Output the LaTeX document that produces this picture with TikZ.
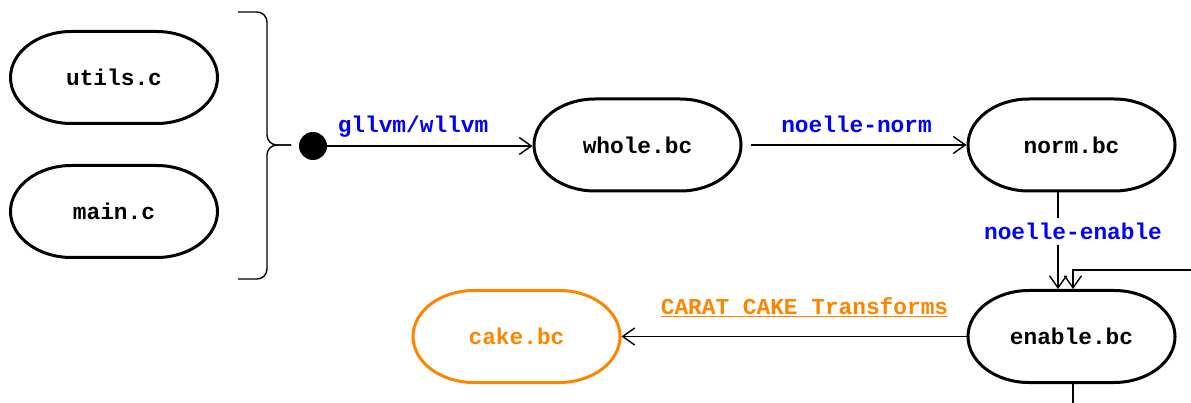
\documentclass[tikz,border=0pt]{standalone}
\usepackage{fontspec}
\setmonofont{Liberation Mono}
\usetikzlibrary{arrows.meta,calc}
\definecolor{cakeorange}{RGB}{255,133,0}
\definecolor{toolblue}{RGB}{0,0,255}
\tikzset{
  file/.style={rectangle, minimum width=207pt, minimum height=92pt, outer sep=1.5pt,
    font=\fontsize{22.8}{24}\ttfamily\bfseries, inner sep=0pt},
  cakefile/.style={file, text=cakeorange},
  capsule/.style={line width=3pt},
  flow/.style={line width=1.4pt, -{Straight Barb[length=12pt,width=17pt,line width=1.4pt]}},
  plain/.style={line width=1.4pt},
  tool/.style={font=\fontsize{22.8}{24}\ttfamily\bfseries, text=toolblue, inner sep=1pt, anchor=base},
  caketool/.style={tool, text=cakeorange},
}
% outline of a file node: straight top and bottom, half-ellipse ends
\newcommand\capsuleoutline[2][]{%
  \draw[capsule,#1] ($(#2.center)+(-42.5,-46)$) -- ($(#2.center)+(42.5,-46)$)
    arc[start angle=90,end angle=-90,x radius=61pt,y radius=46pt]
    -- ($(#2.center)+(-42.5,46)$)
    arc[start angle=270,end angle=90,x radius=61pt,y radius=46pt] -- cycle;}
\begin{document}
\begin{tikzpicture}[x=1pt,y=-1pt]
\useasboundingbox (0,0) rectangle (1191,403);

% source files
\node[file] (utils) at (114,77.5) {utils.c};
\node[file] (main)  at (114,211.5) {main.c};

% brace gathering the sources
\draw[line width=1.4pt, rounded corners=10pt] (238,12) -| (267,145) -- (291,145);
\draw[line width=1.4pt, rounded corners=10pt] (291,145) -| (267,279) -- (238,279);

% junction dot
\node[circle, fill, minimum size=28pt, inner sep=0pt] (join) at (313,146) {};

% bitcode files
\node[file] (whole)  at (637.5,145) {whole.bc};
\node[file] (norm)   at (1071.5,145) {norm.bc};
\node[file] (enable) at (1071.5,336.5) {enable.bc};
\node[cakefile] (cake) at (516.5,336.5) {cake.bc};

\capsuleoutline{utils}
\capsuleoutline{main}
\capsuleoutline{whole}
\capsuleoutline{norm}
\capsuleoutline{enable}
\capsuleoutline[cakeorange]{cake}

% helper points
\coordinate (normout) at (1058,192);
\coordinate (enablein) at (1058,289);
\coordinate (sidein) at (1191,270);
\coordinate (sidebend) at (1073,270);
\coordinate (sidetip) at (1073,289);
\coordinate (enableout) at (1073,384);
\coordinate (down) at (1073,403);

% connectors
\draw[flow] (join) -- (join -| whole.west);
\draw[flow, shorten <=8pt] (whole.east) -- (norm.west);
\draw[flow] (normout) -- (enablein);
\draw[flow] (sidein) -- (sidebend) -- (sidetip);
\draw[flow] (enable.west) -- (cake.east);
\draw[plain] (enableout) -- (down);

% tool labels
\node[tool] (lbl1) at (413,133) {gllvm/wllvm};
\node[tool] (lbl2) at (856.5,133) {noelle-norm};
\node[tool, fill=white, inner ysep=5pt] (lbl3) at (1073,240) {noelle-enable};
\node[caketool] (lbl4) at (804.5,315) {\underline{CARAT CAKE Transforms}};
\end{tikzpicture}
\end{document}
